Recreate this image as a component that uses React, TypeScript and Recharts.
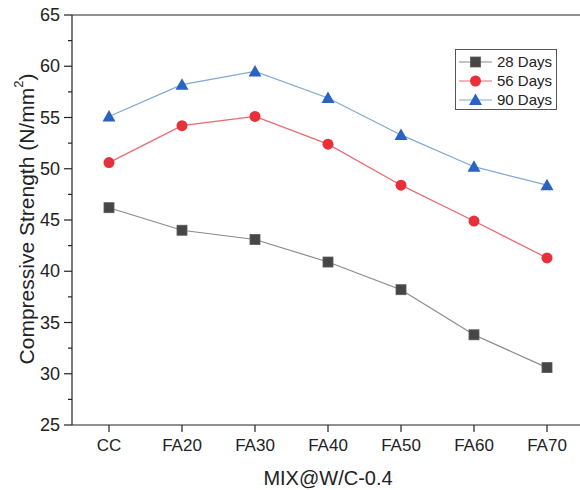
import { LineChart, Line, XAxis, YAxis, ReferenceLine } from 'recharts'

const mixes = ['CC', 'FA20', 'FA30', 'FA40', 'FA50', 'FA60', 'FA70']
const days28 = [46.2, 44.0, 43.1, 40.9, 38.2, 33.8, 30.6]
const days56 = [50.6, 54.2, 55.1, 52.4, 48.4, 44.9, 41.3]
const days90 = [55.1, 58.2, 59.5, 56.9, 53.3, 50.2, 48.4]
const yTicks = [25, 27.5, 30, 32.5, 35, 37.5, 40, 42.5, 45, 47.5, 50, 52.5, 55, 57.5, 60, 62.5, 65]

const data = mixes.map((m, i) => ({
  mix: m,
  d28: days28[i],
  d56: days56[i],
  d90: days90[i],
}))

const FONT = '"Liberation Sans", Arial, sans-serif'

const SERIES = [
  { key: 'd28', name: '28 Days', line: '#8a8a8a', mark: '#464646', shape: 'square' },
  { key: 'd56', name: '56 Days', line: '#e66a70', mark: '#e8303a', shape: 'circle' },
  { key: 'd90', name: '90 Days', line: '#7fa9d4', mark: '#2a63c0', shape: 'triangle' },
]

function Marker({ cx, cy, shape, color }: { cx: number; cy: number; shape: string; color: string }) {
  if (shape === 'square') {
    return <rect x={cx - 5} y={cy - 5} width={10} height={10} fill={color} stroke="#5a5a5a" strokeWidth={0.8} />
  }
  if (shape === 'circle') {
    return <circle cx={cx} cy={cy} r={5.5} fill={color} />
  }
  return <path d={`M${cx},${cy - 6.5} L${cx + 6.5},${cy + 5} L${cx - 6.5},${cy + 5} Z`} fill={color} />
}

function YTick({ y, payload }: any) {
  const v = payload.value
  const major = v % 5 === 0
  return (
    <g>
      <line x1={72 - (major ? 8 : 4)} x2={72} y1={y} y2={y} stroke="#222" strokeWidth={1.2} />
      {major && (
        <text x={60} y={y} textAnchor="end" dominantBaseline="central" fontSize={18} fill="#222" fontFamily={FONT}>
          {v}
        </text>
      )}
    </g>
  )
}

// legend drawn beside the chart so it takes no room from the plot
function LegendBox() {
  return (
    <div
      style={{
        position: 'absolute',
        left: 455,
        top: 49,
        border: '1px solid #555',
        width: 102,
        height: 61,
        boxSizing: 'border-box',
        paddingTop: 2,
        fontFamily: FONT,
        fontSize: 15,
        color: '#222',
        background: '#fff',
      }}
    >
      {SERIES.map((s) => (
        <div key={s.key} style={{ display: 'flex', alignItems: 'center', height: 19 }}>
          <svg width={41} height={16} style={{ flex: 'none' }}>
            <line x1={3} x2={36} y1={8} y2={8} stroke={s.line} strokeWidth={1} />
            <Marker cx={19.5} cy={8} shape={s.shape} color={s.mark} />
          </svg>
          <span>{s.name}</span>
        </div>
      ))}
    </div>
  )
}

export default function App() {
  return (
    <div style={{ position: 'absolute', left: 0, top: 0, width: 580, height: 490, overflow: 'hidden', background: '#fff' }}>
      <LineChart width={584} height={490} data={data} margin={{ top: 15, right: 0, bottom: 0, left: 0 }}>
        <ReferenceLine y={65} stroke="#222" strokeWidth={1.2} />
        <XAxis
          dataKey="mix"
          height={65}
          padding={{ left: 37, right: 37 }}
          stroke="#222"
          strokeWidth={1.2}
          tickSize={7}
          tick={{ fontSize: 17, fill: '#222', fontFamily: FONT, dy: 5 }}
          label={{
            value: 'MIX@W/C-0.4',
            position: 'insideBottom',
            offset: 5,
            fontSize: 20,
            fill: '#222',
            fontFamily: FONT,
          }}
        />
        <YAxis
          width={72}
          domain={[25, 65]}
          ticks={yTicks}
          interval={0}
          stroke="#222"
          strokeWidth={1.2}
          tickLine={false}
          tick={<YTick />}
          label={{
            content: () => (
              <text
                transform="translate(26,219) rotate(-90)"
                textAnchor="middle"
                dominantBaseline="central"
                fontSize={21}
                fill="#222"
                fontFamily={FONT}
              >
                Compressive Strength (N/mm
                <tspan dy={-8} fontSize={13}>2</tspan>
                <tspan dy={8}>)</tspan>
              </text>
            ),
          }}
        />
        {SERIES.map((s) => (
          <Line
            key={s.key}
            dataKey={s.key}
            name={s.name}
            stroke={s.line}
            strokeWidth={1.2}
            isAnimationActive={false}
            dot={(p: any) => <Marker key={p.index} cx={p.cx} cy={p.cy} shape={s.shape} color={s.mark} />}
            activeDot={false}
          />
        ))}
      </LineChart>
      <LegendBox />
    </div>
  )
}
